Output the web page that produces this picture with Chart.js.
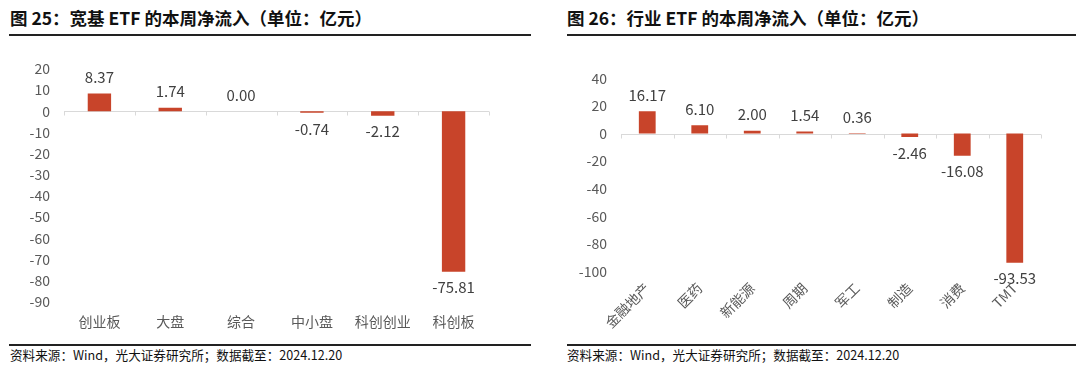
<!DOCTYPE html>
<html>
<head>
<meta charset="utf-8">
<script src="https://cdn.jsdelivr.net/npm/chart.js@4/dist/chart.umd.min.js"></script>
<style>
  body { margin: 0; width: 1080px; height: 369px; background: #fff; position: relative; overflow: hidden;
         font-family: "Noto Sans CJK SC", "Noto Sans", sans-serif; }
  .title { position: absolute; top: 5px; font-size: 17.5px; font-weight: bold; color: #111; white-space: nowrap; }
  .rule { position: absolute; height: 2px; background: #222; }
  .src { position: absolute; top: 345px; font-size: 12.6px; color: #111; white-space: nowrap; }
  .box { position: absolute; top: 40px; width: 540px; height: 300px; }
</style>
</head>
<body>
<div class="title" style="left:10px">图 25：宽基 ETF 的本周净流入（单位：亿元）</div>
<div class="title" style="left:567px">图 26：行业 ETF 的本周净流入（单位：亿元）</div>
<div class="rule" style="left:9px;width:522px;top:34px"></div>
<div class="rule" style="left:567px;width:509px;top:34px"></div>
<div class="rule" style="left:9px;width:522px;top:344px"></div>
<div class="rule" style="left:567px;width:509px;top:344px"></div>
<div class="src" style="left:10px">资料来源：Wind，光大证券研究所；数据截至：2024.12.20</div>
<div class="src" style="left:567px">资料来源：Wind，光大证券研究所；数据截至：2024.12.20</div>
<div class="box" style="left:0"><canvas id="broad"></canvas></div>
<div class="box" style="left:540px"><canvas id="sector"></canvas></div>
<script>
const broadLabels = ["创业板", "大盘", "综合", "中小盘", "科创创业", "科创板"];
const broadFlows = [8.37, 1.74, 0.00, -0.74, -2.12, -75.81];
const broadTicks = { min: -90, max: 20, step: 10 };

const sectorLabels = ["金融地产", "医药", "新能源", "周期", "军工", "制造", "消费", "TMT"];
const sectorFlows = [16.17, 6.10, 2.00, 1.54, 0.36, -2.46, -16.08, -93.53];
const sectorTicks = { min: -100, max: 40, step: 20 };

const barColor = "#C8442A";
const font = "'Noto Sans CJK SC', 'Noto Sans', sans-serif";

// zero line with little ticks between categories (under the bars), value labels on top
const zeroAxis = {
  id: "zeroAxis",
  beforeDatasetsDraw(chart) {
    const { ctx, scales: { x, y } } = chart;
    const y0 = Math.round(y.getPixelForValue(0)) + 0.5;
    ctx.save();
    ctx.strokeStyle = "#d9d9d9";
    ctx.lineWidth = 1;
    ctx.beginPath();
    ctx.moveTo(x.left, y0);
    ctx.lineTo(x.right, y0);
    const n = chart.data.labels.length;
    for (let i = 0; i <= n; i++) {
      const px = Math.round(x.getPixelForValue(i - 0.5)) + 0.5;
      ctx.moveTo(px, y0);
      ctx.lineTo(px, y0 + 4);
    }
    ctx.stroke();
    ctx.restore();
  },
  afterDatasetsDraw(chart) {
    const { ctx } = chart;
    ctx.save();
    ctx.fillStyle = "#404040";
    ctx.font = "15px " + font;
    ctx.textAlign = "center";
    ctx.textBaseline = "middle";
    const meta = chart.getDatasetMeta(0);
    chart.data.datasets[0].data.forEach((v, i) => {
      const bar = meta.data[i];
      const yy = v >= 0 ? bar.y - 16 : bar.y + 16;
      ctx.fillText(v.toFixed(2), bar.x, yy);
    });
    ctx.restore();
  }
};

function makeChart(id, labels, values, t, opt) {
  return new Chart(document.getElementById(id), {
    type: "bar",
    data: {
      labels: labels,
      datasets: [{ data: values, backgroundColor: barColor, categoryPercentage: 1, barPercentage: opt.barPct }]
    },
    options: {
      responsive: true,
      maintainAspectRatio: false,
      animation: false,
      layout: { padding: { top: opt.top, right: opt.right, left: 0, bottom: 0 } },
      plugins: { legend: { display: false }, tooltip: { enabled: false } },
      scales: {
        x: {
          grid: { display: false, drawTicks: false },
          border: { display: false },
          ticks: { color: "#595959", font: { size: 14, family: font }, padding: opt.xPad,
                   minRotation: opt.rot, maxRotation: opt.rot, autoSkip: false },
          afterFit(s) { s.height = opt.xHeight; }
        },
        y: {
          min: t.min, max: t.max,
          grid: { display: false, drawTicks: false },
          border: { display: false },
          ticks: { stepSize: t.step, color: "#595959", font: { size: 14, family: font }, padding: 14 },
          afterFit(s) { s.width = opt.yWidth; }
        }
      }
    },
    plugins: [zeroAxis]
  });
}

makeChart("broad", broadLabels, broadFlows, broadTicks,
  { top: 29, right: 51, xHeight: 38.3, yWidth: 64, barPct: 0.33, xPad: 12, rot: 0 });
makeChart("sector", sectorLabels, sectorFlows, sectorTicks,
  { top: 38.3, right: 39, xHeight: 68.3, yWidth: 81, barPct: 0.32, xPad: 8, rot: 45 });
</script>
</body>
</html>
